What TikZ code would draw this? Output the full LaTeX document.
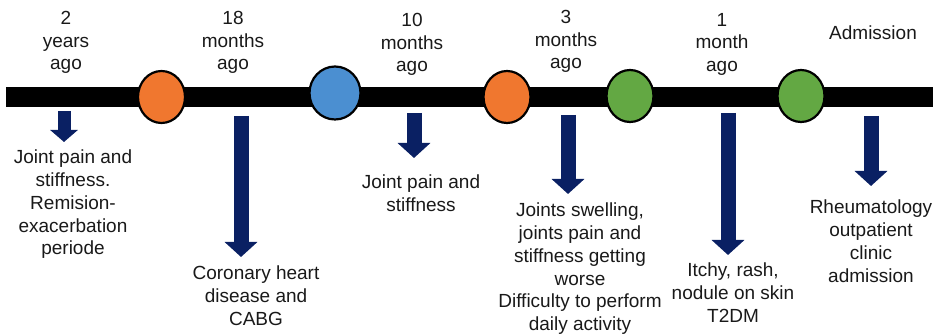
\documentclass[tikz,border=0pt]{standalone}
\usepackage{fontspec}
\setmainfont{Liberation Sans}
\usetikzlibrary{arrows.meta, shapes.geometric}

\definecolor{evorange}{HTML}{F0772F}
\definecolor{evblue}{HTML}{4B8FD1}
\definecolor{evgreen}{HTML}{63A843}
\definecolor{evnavy}{HTML}{0A2063}

\begin{document}
\begin{tikzpicture}[x=1pt, y=-1pt,
    dot/.style={ellipse, draw=black, line width=2.2pt, minimum width=47pt, minimum height=52pt, inner sep=0pt},
    txt/.style={align=center, anchor=north, inner sep=0pt, text=black!90,
        font=\fontsize{19}{22.7}\selectfont},
    evarrow/.style={evnavy, line width=15pt, -{Triangle[width=32pt, length=15pt]}},
    smallarrow/.style={evnavy, line width=13pt, -{Triangle[width=27pt, length=12pt]}}]
    \useasboundingbox (0,0) rectangle (933,336);
    % the time line
    \coordinate (start) at (6,97);
    \coordinate (end) at (933,97);
    \draw[line width=20pt] (start) -- (end);
    \node[dot, fill=evorange](d1) at (161.5,97) {};
    \node[dot, fill=evblue, minimum width=51pt, minimum height=53pt](d2) at (335,93) {};
    \node[dot, fill=evorange](d3) at (507,97) {};
    \node[dot, fill=evgreen](d4) at (630,96) {};
    \node[dot, fill=evgreen](d5) at (801,96) {};
    % when
    \node[txt](w1) at (66,11) {2\\years\\ago};
    \node[txt](w2) at (233,11) {18\\months\\ago};
    \node[txt](w3) at (412,13) {10\\months\\ago};
    \node[txt](w4) at (566,10) {3\\months\\ago};
    \node[txt](w5) at (722,13) {1\\month\\ago};
    \node[txt](w6) at (873,26) {Admission};
    % what
    \node[txt](e1) at (73,150) {Joint pain and\\stiffness.\\Remision-\\exacerbation\\periode};
    \node[txt](e2) at (256,266) {Coronary heart\\disease and\\CABG};
    \node[txt](e3) at (421,175) {Joint pain and\\stiffness};
    \node[txt](e4) at (580,203) {Joints swelling,\\joints pain and\\stiffness getting\\worse\\Difficulty to perform\\daily activity};
    \node[txt](e5) at (733,263) {Itchy, rash,\\nodule on skin\\T2DM};
    \node[txt](e6) at (871,200) {Rheumatology\\outpatient\\clinic\\admission};
    % arrows
    \coordinate (a1) at (64,111);  \coordinate (b1) at (64,142);
    \coordinate (a2) at (241,116); \coordinate (b2) at (241,257);
    \coordinate (a3) at (414,113); \coordinate (b3) at (414,158);
    \coordinate (a4) at (568,115); \coordinate (b4) at (568,194);
    \coordinate (a5) at (728,113); \coordinate (b5) at (728,255);
    \coordinate (a6) at (871,116); \coordinate (b6) at (871,186);
    \path
        (a1) edge [smallarrow] (b1)
        (a2) edge [evarrow] (b2)
        (a3) edge [evarrow] (b3)
        (a4) edge [evarrow] (b4)
        (a5) edge [evarrow] (b5)
        (a6) edge [evarrow] (b6)
        ;
\end{tikzpicture}
\end{document}
